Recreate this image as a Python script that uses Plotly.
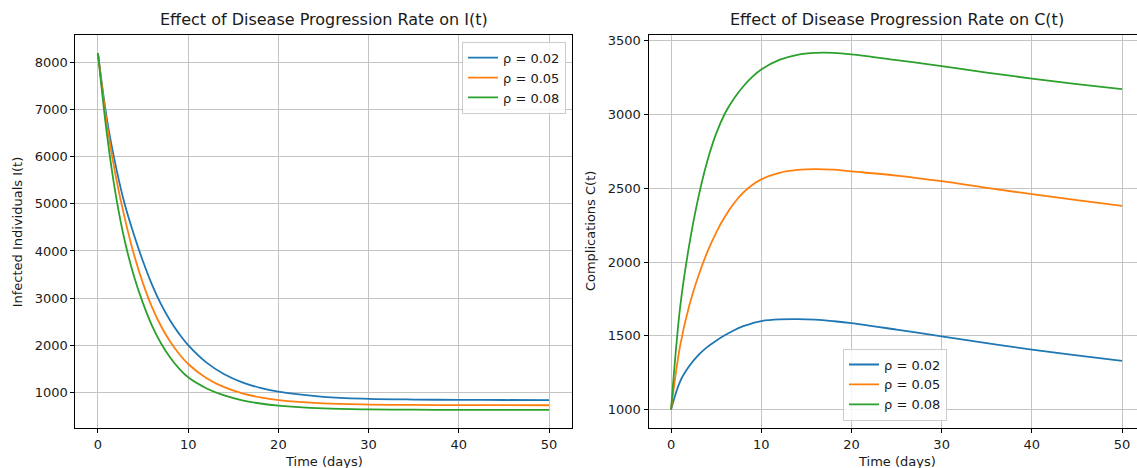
import plotly.graph_objects as go

# Time grid (days) shared by all curves
days = [0, 1, 2, 3, 4, 5, 6, 7, 8, 9, 10, 12, 14, 16, 18, 20, 25, 30, 35, 40, 45, 50]

# Infected individuals I(t) for each disease progression rate
infected_rho_002 = [8200, 6790, 5780, 4970, 4340, 3775, 3280, 2865, 2522, 2240, 2000,
                    1635, 1384, 1212, 1094, 1013, 904, 862, 846, 839, 836, 835]
infected_rho_005 = [8200, 6680, 5560, 4670, 3920, 3306, 2804, 2401, 2076, 1813, 1601,
                    1305, 1109, 979, 893, 836, 765, 740, 731, 727, 726, 725]
infected_rho_008 = [8200, 6470, 5160, 4190, 3460, 2887, 2410, 2035, 1737, 1503, 1318,
                    1087, 933, 830, 762, 716, 658, 637, 630, 627, 626, 625]

# Complications C(t) for each disease progression rate
compl_rho_002 = [1000, 1190, 1293, 1367, 1423, 1467, 1505, 1538, 1565, 1585, 1600,
                 1611, 1613, 1609, 1599, 1586, 1542, 1496, 1450, 1406, 1367, 1330]
compl_rho_005 = [1000, 1430, 1700, 1900, 2065, 2200, 2310, 2400, 2470, 2522, 2560,
                 2604, 2624, 2630, 2626, 2614, 2586, 2548, 2503, 2460, 2420, 2381]
compl_rho_008 = [1000, 1690, 2110, 2430, 2680, 2870, 3010, 3110, 3190, 3255, 3305,
                 3370, 3405, 3418, 3418, 3408, 3369, 3328, 3284, 3244, 3206, 3172]

series_labels = ["ρ = 0.02", "ρ = 0.05", "ρ = 0.08"]
series_colors = ["#1f77b4", "#ff7f0e", "#2ca02c"]

x_ticks = [0, 10, 20, 30, 40, 50]
i_ticks = [1000, 2000, 3000, 4000, 5000, 6000, 7000, 8000]
c_ticks = [1000, 1500, 2000, 2500, 3000, 3500]

W, H = 1137, 468
FONT = "DejaVu Sans"
TEXT = "#1a1a1a"

fig = go.Figure()

for label, color, ys in zip(series_labels, series_colors,
                            [infected_rho_002, infected_rho_005, infected_rho_008]):
    fig.add_trace(go.Scatter(x=days, y=ys, mode="lines", name=label,
                             line=dict(color=color, width=1.8, shape="spline", smoothing=1.0),
                             xaxis="x", yaxis="y", legend="legend"))

for label, color, ys in zip(series_labels, series_colors,
                            [compl_rho_002, compl_rho_005, compl_rho_008]):
    fig.add_trace(go.Scatter(x=days, y=ys, mode="lines", name=label,
                             line=dict(color=color, width=1.8, shape="spline", smoothing=1.0),
                             xaxis="x2", yaxis="y2", legend="legend2"))

axis_common = dict(
    showgrid=True, gridcolor="#c4c4c4", gridwidth=1,
    showline=True, linecolor="#000000", linewidth=1,
    ticks="outside", ticklen=4, tickwidth=1, tickcolor="#000000",
    zeroline=False, tickfont=dict(family=FONT, size=13, color=TEXT),
)

left_x0, left_x1 = 75.4, 571.6
right_x0 = 648.5

fig.update_layout(
    width=W, height=H,
    margin=dict(l=0, r=0, t=35, b=40),
    paper_bgcolor="white", plot_bgcolor="white",
    font=dict(family=FONT, size=13, color=TEXT),
    xaxis=dict(axis_common, domain=[left_x0 / W, left_x1 / W], range=[-2.5, 52.5],
               tickvals=x_ticks, mirror=True, anchor="y"),
    yaxis=dict(axis_common, domain=[0, 1], range=[242, 8584], tickvals=i_ticks,
               mirror=True, anchor="x"),
    xaxis2=dict(axis_common, domain=[right_x0 / W, 1.0], range=[-2.5, 51.66],
                tickvals=x_ticks, mirror=True, anchor="y2"),
    yaxis2=dict(axis_common, domain=[0, 1], range=[875, 3539], tickvals=c_ticks,
                mirror=False, anchor="x2"),
    legend=dict(x=566 / W, xanchor="right", y=0.983, yanchor="top",
                bgcolor="rgba(255,255,255,0.85)", bordercolor="#cccccc", borderwidth=1,
                font=dict(family=FONT, size=13, color=TEXT)),
    legend2=dict(x=843 / W, xanchor="left", y=0.019, yanchor="bottom",
                 bgcolor="rgba(255,255,255,0.85)", bordercolor="#cccccc", borderwidth=1,
                 font=dict(family=FONT, size=13, color=TEXT)),
)

left_center = (left_x0 + left_x1) / 2 / W
right_center = 896.5 / W

annotations = [
    dict(text="Effect of Disease Progression Rate on I(t)", x=left_center, y=1,
         xref="paper", yref="paper", xanchor="center", yanchor="bottom", yshift=4,
         showarrow=False, font=dict(family=FONT, size=16, color=TEXT)),
    dict(text="Effect of Disease Progression Rate on C(t)", x=right_center, y=1,
         xref="paper", yref="paper", xanchor="center", yanchor="bottom", yshift=4,
         showarrow=False, font=dict(family=FONT, size=16, color=TEXT)),
    dict(text="Time (days)", x=left_center, y=0, xref="paper", yref="paper",
         xanchor="center", yanchor="top", yshift=-24, showarrow=False,
         font=dict(family=FONT, size=13, color=TEXT)),
    dict(text="Time (days)", x=right_center, y=0, xref="paper", yref="paper",
         xanchor="center", yanchor="top", yshift=-24, showarrow=False,
         font=dict(family=FONT, size=13, color=TEXT)),
    dict(text="Infected Individuals I(t)", x=17.8 / W, y=0.5, xref="paper", yref="paper",
         xanchor="center", yanchor="middle", textangle=-90, showarrow=False,
         font=dict(family=FONT, size=13, color=TEXT)),
    dict(text="Complications C(t)", x=590.6 / W, y=0.5, xref="paper", yref="paper",
         xanchor="center", yanchor="middle", textangle=-90, showarrow=False,
         font=dict(family=FONT, size=13, color=TEXT)),
]
fig.update_layout(annotations=annotations)

fig.write_html("out.html")
